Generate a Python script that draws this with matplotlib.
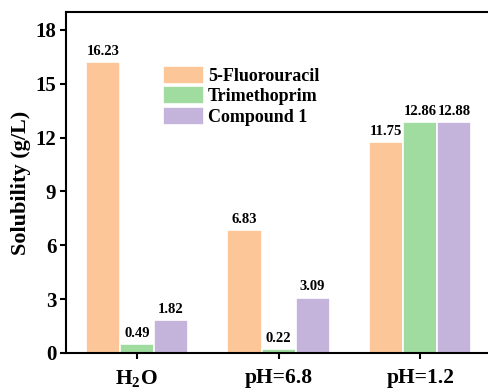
import matplotlib
matplotlib.use("Agg")
import matplotlib.pyplot as plt
import numpy as np

categories = ["H$_{\\mathbf{2}}$O", "pH=6.8", "pH=1.2"]
series_names = ["5-Fluorouracil", "Trimethoprim", "Compound 1"]
fluorouracil = [16.23, 6.83, 11.75]
trimethoprim = [0.49, 0.22, 12.86]
compound1 = [1.82, 3.09, 12.88]
yticks = [0, 3, 6, 9, 12, 15, 18]

colors = ["#FDC698", "#A0DBA0", "#C4B3DA"]

plt.rcParams['font.family'] = ['Liberation Serif', 'DejaVu Serif']
plt.rcParams['font.weight'] = 'bold'
plt.rcParams['mathtext.fontset'] = 'custom'
plt.rcParams['mathtext.rm'] = 'Liberation Serif'
plt.rcParams['mathtext.bf'] = 'Liberation Serif:bold'

fig = plt.figure(figsize=(4.89, 3.92), dpi=100)
ax = fig.add_axes([66/489, 1-353/392, (491-66)/489, 341/392])

x = np.arange(len(categories))
w = 0.24
data = [fluorouracil, trimethoprim, compound1]
for i, (vals, name, c) in enumerate(zip(data, series_names, colors)):
    bars = ax.bar(x + (i-1)*w, vals, width=w, color=c, edgecolor='white',
                  linewidth=1.2, label=name)
    ax.bar_label(bars, labels=[f"{v:.2f}" for v in vals], padding=3,
                 fontsize=10.5, fontweight='bold')

ax.set_xlim(-0.5, 2.5)
ax.set_ylim(0, 19)
ax.set_yticks(yticks)
ax.set_xticks(x)
ax.set_xticklabels(categories, fontsize=15.5, fontweight='bold')
ax.tick_params(axis='y', labelsize=15, direction='out', length=4, width=1.5, pad=3)
ax.tick_params(axis='x', direction='out', length=4, width=1.5, pad=7)
for lab in ax.get_yticklabels():
    lab.set_fontweight('bold')
for s in ax.spines.values():
    s.set_linewidth(1.5)
ax.set_ylabel("Solubility (g/L)", fontsize=16, fontweight='bold', labelpad=3)

leg = ax.legend(loc='upper left', bbox_to_anchor=(163/489, 1-66/392),
                bbox_transform=fig.transFigure, frameon=False, borderpad=0,
                borderaxespad=0, handlelength=2.26, handleheight=1.13,
                handletextpad=0.22, labelspacing=0.08,
                prop={'size': 13, 'weight': 'bold'})

fig.savefig("out.png", dpi=100)
